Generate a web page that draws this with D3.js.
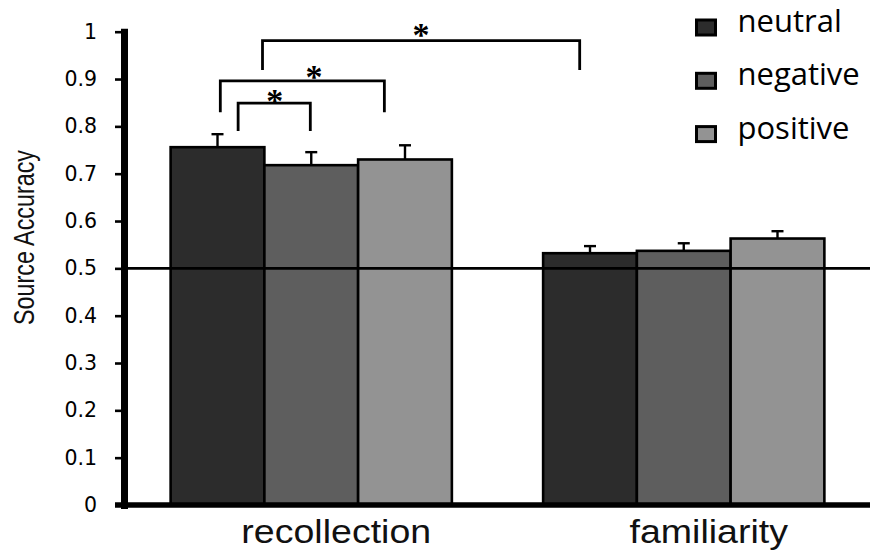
<!DOCTYPE html>
<html>
<head>
<meta charset="utf-8">
<script src="https://cdn.jsdelivr.net/npm/d3@7"></script>
<style>
  body { margin: 0; background: #fff; }
  svg { display: block; }
</style>
</head>
<body>
<script>
const categories = ['recollection', 'familiarity']
const conditions = ['neutral', 'negative', 'positive']
const recollectionMeans = [0.756, 0.718, 0.730]
const recollectionErrors = [0.0275, 0.0275, 0.030]
const familiarityMeans = [0.532, 0.537, 0.563]
const familiarityErrors = [0.015, 0.016, 0.0155]
const yTicks = [0, 0.1, 0.2, 0.3, 0.4, 0.5, 0.6, 0.7, 0.8, 0.9, 1]
const chance = 0.5
// significance brackets: ends as (category, bar slot), heights in accuracy units
const brackets = [
  { from: ['recollection', 0.72], to: ['recollection', 1.49], top: 0.849, low: 0.79, star: ['recollection', 1.11], starY: 0.866 },
  { from: ['recollection', 0.53], to: ['recollection', 2.28], top: 0.896, low: 0.83, star: ['recollection', 1.53], starY: 0.917 },
  { from: ['recollection', 0.98], to: ['familiarity', 0.39], top: 0.981, low: 0.919, star: ['recollection', 2.67], starY: 1.005 }
]

const width = 870
const height = 556
const colors = ['#2c2c2c', '#5e5e5e', '#939393']

const data = categories.map((c, i) => ({
  category: c,
  values: conditions.map((k, j) => ({
    condition: k,
    mean: i === 0 ? recollectionMeans[j] : familiarityMeans[j],
    err: i === 0 ? recollectionErrors[j] : familiarityErrors[j]
  }))
}))

const svg = d3.select('body').append('svg')
  .attr('width', width).attr('height', height)

var x = d3.scaleBand().domain(categories).range([125, 870]).paddingInner(0.245).paddingOuter(0.1225)
var xSub = d3.scaleBand().domain(conditions).range([0, x.bandwidth()])
var y = d3.scaleLinear().domain([0, 1]).range([505, 31.7])
var color = d3.scaleOrdinal().domain(conditions).range(colors)

var slot = p => x(p[0]) + p[1] * xSub.bandwidth()

// bars
var groups = svg.append('g').selectAll('g.group')
  .data(data)
  .enter()
  .append('g')
  .attr('class', 'group')
  .attr('transform', d => `translate(${x(d.category)}, 0)`)

groups.selectAll('rect')
  .data(d => d.values)
  .enter()
  .append('rect')
  .attr('x', d => xSub(d.condition))
  .attr('y', d => y(d.mean))
  .attr('width', xSub.bandwidth())
  .attr('height', d => y(0) - y(d.mean))
  .attr('fill', d => color(d.condition))
  .attr('stroke', '#000')
  .attr('stroke-width', 2.6)

// error bars (upper only)
var err = groups.selectAll('g.err')
  .data(d => d.values)
  .enter()
  .append('g')
  .attr('class', 'err')
  .attr('stroke', '#000')
  .attr('stroke-width', 2.4)

err.append('line')
  .attr('x1', d => xSub(d.condition) + xSub.bandwidth() / 2)
  .attr('x2', d => xSub(d.condition) + xSub.bandwidth() / 2)
  .attr('y1', d => y(d.mean))
  .attr('y2', d => y(d.mean + d.err))
err.append('line')
  .attr('x1', d => xSub(d.condition) + xSub.bandwidth() / 2 - 6)
  .attr('x2', d => xSub(d.condition) + xSub.bandwidth() / 2 + 6)
  .attr('y1', d => y(d.mean + d.err))
  .attr('y2', d => y(d.mean + d.err))

// chance line
svg.append('line')
  .attr('x1', 124).attr('x2', width)
  .attr('y1', y(chance)).attr('y2', y(chance))
  .attr('stroke', '#000').attr('stroke-width', 2.8)

// y axis
var axisY = d3.axisLeft(y).tickValues(yTicks).tickFormat(d => d).tickSize(9).tickSizeOuter(0).tickPadding(18)
var gy = svg.append('g').attr('transform', 'translate(124, 0)').call(axisY)
gy.select('.domain').attr('stroke-width', 7).attr('stroke-linecap', 'square')
gy.selectAll('.tick line').attr('stroke-width', 2.6)
gy.selectAll('.tick text')
  .attr('font-family', 'DejaVu Sans, sans-serif')
  .attr('font-size', 20.5)
  .attr('fill', '#000')

// x baseline and labels
svg.append('line')
  .attr('x1', 115).attr('x2', width)
  .attr('y1', y(0)).attr('y2', y(0))
  .attr('stroke', '#000').attr('stroke-width', 5.5)

var axisX = d3.axisBottom(x).tickSize(0)
var gx = svg.append('g').attr('transform', `translate(0, ${y(0)})`).call(axisX)
gx.select('.domain').remove()
gx.selectAll('.tick text')
  .attr('font-family', 'Liberation Sans, Arial, sans-serif')
  .attr('font-size', 33.5)
  .attr('fill', '#111')
  .attr('dy', null)
  .attr('y', 37.5)
  .attr('x', 25)
  .each(function () {
    var w = this.getComputedTextLength()
    d3.select(this).attr('textLength', w * 1.12).attr('lengthAdjust', 'spacingAndGlyphs')
  })

// y title
svg.append('text')
  .attr('transform', 'translate(33.5, 237.5) rotate(-90)')
  .attr('text-anchor', 'middle')
  .attr('font-family', 'Liberation Sans, Arial, sans-serif')
  .attr('font-size', 30)
  .attr('textLength', 175)
  .attr('lengthAdjust', 'spacingAndGlyphs')
  .attr('fill', '#111')
  .text('Source Accuracy')

// significance brackets
var br = svg.append('g').selectAll('g.bracket')
  .data(brackets)
  .enter()
  .append('g')
  .attr('class', 'bracket')

br.append('path')
  .attr('d', d => `M${slot(d.from)},${y(d.low)}V${y(d.top)}H${slot(d.to)}V${y(d.low)}`)
  .attr('fill', 'none')
  .attr('stroke', '#000')
  .attr('stroke-width', 2.8)

br.append('text')
  .attr('x', d => slot(d.star))
  .attr('y', d => y(d.starY) + 17)
  .attr('text-anchor', 'middle')
  .attr('font-family', 'Liberation Serif, Times New Roman, serif')
  .attr('font-weight', 'bold')
  .attr('font-size', 34)
  .text('*')

// legend
var legend = svg.append('g').selectAll('g.legend')
  .data(conditions)
  .enter()
  .append('g')
  .attr('class', 'legend')
  .attr('transform', (d, i) => `translate(696.5, ${27.5 + i * 53.3})`)

legend.append('rect')
  .attr('x', 0).attr('y', -7.5)
  .attr('width', 19).attr('height', 15)
  .attr('fill', d => color(d))
  .attr('stroke', '#000')
  .attr('stroke-width', 3)

legend.append('text')
  .attr('x', 41).attr('y', 4.5)
  .attr('font-family', 'Open Sans, sans-serif')
  .attr('font-size', 31)
  .attr('fill', '#000')
  .text(d => d)
</script>
</body>
</html>
